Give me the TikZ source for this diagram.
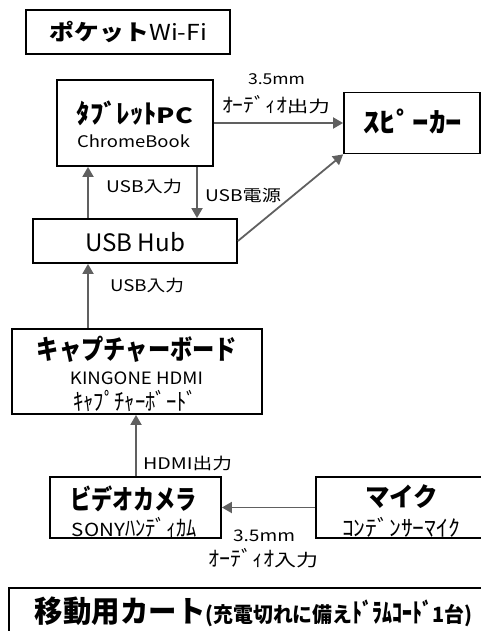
\documentclass[tikz,border=0pt]{standalone}
\usepackage{graphicx}
\usepackage{fontspec}
\setmainfont{Noto Sans CJK JP}
\usetikzlibrary{arrows.meta}
\definecolor{arrowgray}{HTML}{606060}
\newcommand{\fitw}[3]{\resizebox{#1}{\height}{\fontsize{#2}{#2}\selectfont #3}}
\newcommand{\hk}[1]{\scalebox{1}[1.25]{#1}}
\tikzset{
  box/.style={draw=black, line width=1.8pt, inner sep=0pt, anchor=center},
  txt/.style={inner sep=0pt, anchor=center},
  arr/.style={draw=arrowgray, line width=1.8pt, -{Triangle[length=10pt,width=11pt]}}
}
\begin{document}
\begin{tikzpicture}[x=1pt,y=-1pt]
\useasboundingbox (0,0) rectangle (480,631);
% boxes
\node[box, minimum width=204pt, minimum height=44pt] (wifi) at (128,32) {};
\node[box, minimum width=156pt, minimum height=86pt] (tablet) at (135,123) {};
\node[box, minimum width=136pt, minimum height=61pt] (speaker) at (412,123) {};
\node[box, minimum width=204pt, minimum height=44pt] (hub) at (135,241) {};
\node[box, minimum width=250pt, minimum height=85pt] (capture) at (137,371.5) {};
\node[box, minimum width=171pt, minimum height=61pt] (camera) at (135.5,507.5) {};
\node[box, minimum width=170pt, minimum height=61pt] (mic) at (401,507.5) {};
\node[box, minimum width=488pt, minimum height=64pt] (cart) at (253,620) {};
% box texts
\node[txt] (wifit) at (128.5,32) {\fitw{157pt}{22}{\textbf{ポケット}Wi-Fi}};
\node[txt] (tabt1) at (135,113) {\fitw{116pt}{21}{\textbf{\hk{ﾀﾌﾞﾚｯﾄ}PC}}};
\node[txt] (tabt2) at (133.5,141) {\fitw{113pt}{16}{ChromeBook}};
\node[txt] (spkt) at (412.5,121) {\fitw{99pt}{22}{\textbf{\hk{ｽﾋﾟｰｶｰ}}}};
\node[txt] (hubt) at (135,242) {\fitw{100pt}{24}{USB Hub}};
\node[txt] (capt1) at (137,349) {\fitw{200pt}{27}{\textbf{キャプチャーボード}}};
\node[txt] (capt2) at (136.5,378) {\fitw{133pt}{17}{KINGONE HDMI}};
\node[txt] (capt3) at (135,401) {\fitw{124pt}{19}{\hk{ｷｬﾌﾟﾁｬｰﾎﾞｰﾄﾞ}}};
\node[txt] (camt1) at (133.5,499) {\fitw{127pt}{27}{\textbf{ビデオカメラ}}};
\node[txt] (camt2) at (134.5,527) {\fitw{125pt}{18}{SONY\hk{ﾊﾝﾃﾞｨｶﾑ}}};
\node[txt] (mict1) at (401.5,497) {\fitw{73pt}{26}{\textbf{マイク}}};
\node[txt] (mict2) at (401,527) {\fitw{118pt}{18}{\hk{ｺﾝﾃﾞﾝｻｰﾏｲｸ}}};
\node[txt] (cartt) at (253.5,612) {\fitw{437pt}{30}{\textbf{移動用カート}\fontsize{21}{21}\selectfont\textbf{(充電切れに備え\hk{ﾄﾞﾗﾑｺｰﾄﾞ}1台)}}};
% connectors
\draw[arr] (tablet.east) -- (speaker.west);
\draw[arr] (hub.east) -- (speaker.south west);
\draw[arr] (hub.north -| 88,0) -- (tablet.south -| 88,0);
\draw[arr] (tablet.south -| 197,0) -- (hub.north -| 197,0);
\draw[arr] (capture.north -| 88,0) -- (hub.south -| 88,0);
\draw[arr] (camera.north -| 136,0) -- (capture.south -| 136,0);
\draw[arr] (mic.west) -- (camera.east);
% labels
\node[txt] (l1a) at (276.5,79) {\fitw{57pt}{15}{3.5mm}};
\node[txt] (l1b) at (276,105) {\fitw{108pt}{16}{\hk{ｵｰﾃﾞｨｵ}出力}};
\node[txt] (l2) at (144,186) {\fitw{76pt}{16}{USB入力}};
\node[txt] (l3) at (243,195) {\fitw{76pt}{16}{USB電源}};
\node[txt] (l4) at (147,285) {\fitw{74pt}{16}{USB入力}};
\node[txt] (l5) at (187.5,463) {\fitw{89pt}{16}{HDMI出力}};
\node[txt] (l6a) at (264,536) {\fitw{62pt}{16}{3.5mm}};
\node[txt] (l6b) at (263,558) {\fitw{110pt}{17}{\hk{ｵｰﾃﾞｨｵ}入力}};
\end{tikzpicture}
\end{document}
